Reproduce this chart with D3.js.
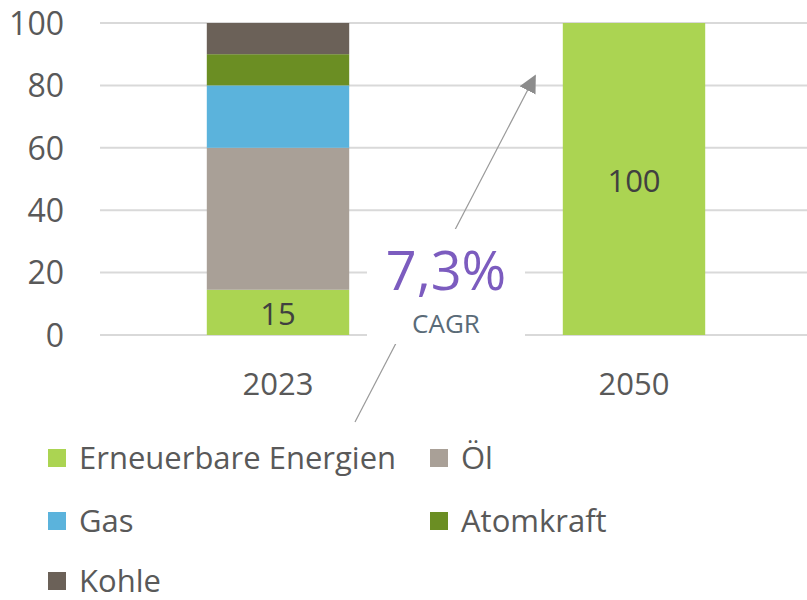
<!DOCTYPE html>
<html><head><meta charset="utf-8">
<script src="https://cdn.jsdelivr.net/npm/d3@7"></script>
<style>body{margin:0;background:#fff}svg{display:block;font-family:"Open Sans",sans-serif}</style>
</head><body><svg id="c" width="807" height="600"></svg>
<script>
const categories = ["2023", "2050"];
const seriesNames = ["Erneuerbare Energien", "Öl", "Gas", "Atomkraft", "Kohle"];
const seriesColors = ["#abd452", "#a9a097", "#5bb3dc", "#6b8e23", "#6b6158"];
const erneuerbare = [14.5, 100];
const oel = [45.5, 0];
const gas = [20, 0];
const atomkraft = [10, 0];
const kohle = [10, 0];
const yTicks = [0, 20, 40, 60, 80, 100];
const cagrLabel = "7,3%";
const cagrSub = "CAGR";

const values = [erneuerbare, oel, gas, atomkraft, kohle];
const rows = categories.map((c, i) => {
  const r = {cat: c};
  seriesNames.forEach((s, j) => r[s] = values[j][i]);
  return r;
});
const stack = d3.stack().keys(seriesNames)(rows);

const svg = d3.select("#c");
const x = d3.scaleBand().domain(categories).range([100, 812]).paddingInner(0.6).paddingOuter(0.3);
const y = d3.scaleLinear().domain([0, 100]).range([335, 23]);

// gridlines
svg.append("g").selectAll("line").data(yTicks).join("line")
  .attr("x1", 100).attr("x2", 807)
  .attr("y1", d => y(d)).attr("y2", d => y(d))
  .attr("stroke", "#d9d9d9").attr("stroke-width", 2);

// y axis labels
const yAxis = svg.append("g").attr("transform", "translate(64,0)")
  .call(d3.axisLeft(y).tickValues(yTicks).tickSize(0).tickPadding(0));
yAxis.select(".domain").remove();
yAxis.selectAll("text").attr("font-size", 32).attr("fill", "#595959").attr("font-family", "Open Sans").attr("dy", "0.35em");

// bars
svg.append("g").selectAll("g").data(stack).join("g")
  .attr("fill", (d, i) => seriesColors[i])
  .selectAll("rect").data(d => d).join("rect")
  .attr("x", d => x(d.data.cat))
  .attr("width", x.bandwidth())
  .attr("y", d => y(d[1]))
  .attr("height", d => y(d[0]) - y(d[1]));

// data labels for Erneuerbare
svg.append("g").selectAll("text").data(stack[0]).join("text")
  .attr("x", d => x(d.data.cat) + x.bandwidth() / 2)
  .attr("y", d => (y(d[0]) + y(d[1])) / 2 + 2)
  .attr("dy", "0.35em").attr("text-anchor", "middle")
  .attr("font-size", 31).attr("fill", "#404040")
  .text(d => d3.format(".0f")(d[1] - d[0]));

// x axis labels
const xAxis = svg.append("g").attr("transform", "translate(0,335)")
  .call(d3.axisBottom(x).tickSize(0).tickPadding(0));
xAxis.select(".domain").remove();
xAxis.selectAll("text").attr("font-size", 31).attr("fill", "#595959").attr("font-family", "Open Sans").attr("dy", "1.93em");

// CAGR annotation
const defs = svg.append("defs");
defs.append("marker").attr("id", "arr").attr("viewBox", "0 0 10 10")
  .attr("refX", 9).attr("refY", 5).attr("markerWidth", 18).attr("markerHeight", 18)
  .attr("markerUnits", "userSpaceOnUse").attr("orient", "auto")
  .append("path").attr("d", "M0,0 L10,5 L0,10 Z").attr("fill", "#8c8c8c");
svg.append("line").attr("x1", 355).attr("y1", 422).attr("x2", 535).attr("y2", 76)
  .attr("stroke", "#999").attr("stroke-width", 1.2).attr("marker-end", "url(#arr)");
svg.append("rect").attr("x", 367).attr("y", 229).attr("width", 158).attr("height", 115).attr("fill", "#fff");
svg.append("text").attr("x", 446).attr("y", 290).attr("text-anchor", "middle")
  .attr("font-size", 54).attr("fill", "#7c5cbf").text(cagrLabel);
svg.append("text").attr("x", 446).attr("y", 333).attr("text-anchor", "middle")
  .attr("font-size", 26).attr("fill", "#5a6b78").text(cagrSub);

// legend
const legPos = [[48, 458], [430, 458], [48, 521], [430, 521], [48, 581]];
const leg = svg.append("g").selectAll("g").data(seriesNames).join("g")
  .attr("transform", (d, i) => `translate(${legPos[i][0]},${legPos[i][1]})`);
leg.append("rect").attr("x", 0).attr("y", -9).attr("width", 18).attr("height", 18)
  .attr("fill", (d, i) => seriesColors[i]);
leg.append("text").attr("x", 31).attr("dy", "0.35em").attr("font-size", 31).attr("fill", "#595959").text(d => d);
</script></body></html>
